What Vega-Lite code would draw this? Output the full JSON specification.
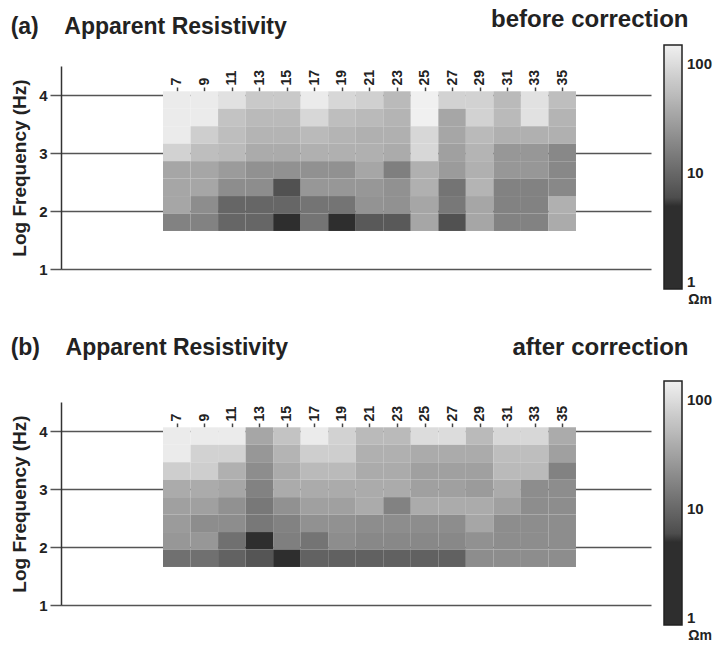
{
  "$schema": "https://vega.github.io/schema/vega-lite/v6.json",
  "background": "white",
  "padding": {"left": 10, "top": 7, "right": 0, "bottom": 0},
  "config": {
    "font": "Liberation Sans",
    "view": {"stroke": null},
    "title": {"font": "Liberation Sans"}
  },
  "datasets": {
    "a": [
      {"s":7,"f":8192,"r":136},{"s":9,"f":8192,"r":136},{"s":11,"f":8192,"r":112},{"s":13,"f":8192,"r":69},{"s":15,"f":8192,"r":69},{"s":17,"f":8192,"r":136},{"s":19,"f":8192,"r":92},{"s":21,"f":8192,"r":80},{"s":23,"f":8192,"r":51},{"s":25,"f":8192,"r":150},{"s":27,"f":8192,"r":83},{"s":29,"f":8192,"r":83},{"s":31,"f":8192,"r":51},{"s":33,"f":8192,"r":112},{"s":35,"f":8192,"r":56},
      {"s":7,"f":4096,"r":136},{"s":9,"f":4096,"r":136},{"s":11,"f":4096,"r":62},{"s":13,"f":4096,"r":51},{"s":15,"f":4096,"r":51},{"s":17,"f":4096,"r":92},{"s":19,"f":4096,"r":56},{"s":21,"f":4096,"r":51},{"s":23,"f":4096,"r":46},{"s":25,"f":4096,"r":150},{"s":27,"f":4096,"r":35},{"s":29,"f":4096,"r":83},{"s":31,"f":4096,"r":51},{"s":33,"f":4096,"r":112},{"s":35,"f":4096,"r":46},
      {"s":7,"f":2048,"r":136},{"s":9,"f":2048,"r":76},{"s":11,"f":2048,"r":56},{"s":13,"f":2048,"r":46},{"s":15,"f":2048,"r":46},{"s":17,"f":2048,"r":51},{"s":19,"f":2048,"r":46},{"s":21,"f":2048,"r":42},{"s":23,"f":2048,"r":42},{"s":25,"f":2048,"r":92},{"s":27,"f":2048,"r":35},{"s":29,"f":2048,"r":51},{"s":31,"f":2048,"r":42},{"s":33,"f":2048,"r":42},{"s":35,"f":2048,"r":42},
      {"s":7,"f":1024,"r":83},{"s":9,"f":1024,"r":56},{"s":11,"f":1024,"r":51},{"s":13,"f":1024,"r":38},{"s":15,"f":1024,"r":38},{"s":17,"f":1024,"r":42},{"s":19,"f":1024,"r":42},{"s":21,"f":1024,"r":42},{"s":23,"f":1024,"r":38},{"s":25,"f":1024,"r":92},{"s":27,"f":1024,"r":31},{"s":29,"f":1024,"r":46},{"s":31,"f":1024,"r":26},{"s":33,"f":1024,"r":26},{"s":35,"f":1024,"r":19},
      {"s":7,"f":512,"r":35},{"s":9,"f":512,"r":35},{"s":11,"f":512,"r":28},{"s":13,"f":512,"r":23},{"s":15,"f":512,"r":23},{"s":17,"f":512,"r":23},{"s":19,"f":512,"r":23},{"s":21,"f":512,"r":35},{"s":23,"f":512,"r":16},{"s":25,"f":512,"r":42},{"s":27,"f":512,"r":28},{"s":29,"f":512,"r":42},{"s":31,"f":512,"r":26},{"s":33,"f":512,"r":26},{"s":35,"f":512,"r":19},
      {"s":7,"f":256,"r":35},{"s":9,"f":256,"r":35},{"s":11,"f":256,"r":21},{"s":13,"f":256,"r":21},{"s":15,"f":256,"r":6.5},{"s":17,"f":256,"r":26},{"s":19,"f":256,"r":26},{"s":21,"f":256,"r":26},{"s":23,"f":256,"r":23},{"s":25,"f":256,"r":42},{"s":27,"f":256,"r":13},{"s":29,"f":256,"r":46},{"s":31,"f":256,"r":17},{"s":33,"f":256,"r":17},{"s":35,"f":256,"r":19},
      {"s":7,"f":128,"r":35},{"s":9,"f":128,"r":21},{"s":11,"f":128,"r":9.7},{"s":13,"f":128,"r":9.7},{"s":15,"f":128,"r":9.7},{"s":17,"f":128,"r":13},{"s":19,"f":128,"r":13},{"s":21,"f":128,"r":24},{"s":23,"f":128,"r":23},{"s":25,"f":128,"r":35},{"s":27,"f":128,"r":14},{"s":29,"f":128,"r":35},{"s":31,"f":128,"r":17},{"s":33,"f":128,"r":17},{"s":35,"f":128,"r":42},
      {"s":7,"f":64,"r":17},{"s":9,"f":64,"r":17},{"s":11,"f":64,"r":9.7},{"s":13,"f":64,"r":9.7},{"s":15,"f":64,"r":4},{"s":17,"f":64,"r":13},{"s":19,"f":64,"r":4.5},{"s":21,"f":64,"r":7.5},{"s":23,"f":64,"r":7.5},{"s":25,"f":64,"r":35},{"s":27,"f":64,"r":6.5},{"s":29,"f":64,"r":35},{"s":31,"f":64,"r":17},{"s":33,"f":64,"r":17},{"s":35,"f":64,"r":38}
    ],
    "b": [
      {"s":7,"f":8192,"r":136},{"s":9,"f":8192,"r":136},{"s":11,"f":8192,"r":136},{"s":13,"f":8192,"r":35},{"s":15,"f":8192,"r":62},{"s":17,"f":8192,"r":136},{"s":19,"f":8192,"r":83},{"s":21,"f":8192,"r":51},{"s":23,"f":8192,"r":51},{"s":25,"f":8192,"r":100},{"s":27,"f":8192,"r":100},{"s":29,"f":8192,"r":51},{"s":31,"f":8192,"r":92},{"s":33,"f":8192,"r":92},{"s":35,"f":8192,"r":38},
      {"s":7,"f":4096,"r":136},{"s":9,"f":4096,"r":83},{"s":11,"f":4096,"r":83},{"s":13,"f":4096,"r":26},{"s":15,"f":4096,"r":46},{"s":17,"f":4096,"r":76},{"s":19,"f":4096,"r":76},{"s":21,"f":4096,"r":42},{"s":23,"f":4096,"r":42},{"s":25,"f":4096,"r":38},{"s":27,"f":4096,"r":38},{"s":29,"f":4096,"r":38},{"s":31,"f":4096,"r":56},{"s":33,"f":4096,"r":56},{"s":35,"f":4096,"r":31},
      {"s":7,"f":2048,"r":76},{"s":9,"f":2048,"r":76},{"s":11,"f":2048,"r":42},{"s":13,"f":2048,"r":21},{"s":15,"f":2048,"r":38},{"s":17,"f":2048,"r":51},{"s":19,"f":2048,"r":51},{"s":21,"f":2048,"r":38},{"s":23,"f":2048,"r":38},{"s":25,"f":2048,"r":31},{"s":27,"f":2048,"r":31},{"s":29,"f":2048,"r":31},{"s":31,"f":2048,"r":51},{"s":33,"f":2048,"r":51},{"s":35,"f":2048,"r":17},
      {"s":7,"f":1024,"r":38},{"s":9,"f":1024,"r":38},{"s":11,"f":1024,"r":35},{"s":13,"f":1024,"r":17},{"s":15,"f":1024,"r":38},{"s":17,"f":1024,"r":38},{"s":19,"f":1024,"r":38},{"s":21,"f":1024,"r":38},{"s":23,"f":1024,"r":38},{"s":25,"f":1024,"r":31},{"s":27,"f":1024,"r":31},{"s":29,"f":1024,"r":28},{"s":31,"f":1024,"r":38},{"s":33,"f":1024,"r":21},{"s":35,"f":1024,"r":21},
      {"s":7,"f":512,"r":31},{"s":9,"f":512,"r":31},{"s":11,"f":512,"r":23},{"s":13,"f":512,"r":14},{"s":15,"f":512,"r":23},{"s":17,"f":512,"r":31},{"s":19,"f":512,"r":31},{"s":21,"f":512,"r":38},{"s":23,"f":512,"r":17},{"s":25,"f":512,"r":38},{"s":27,"f":512,"r":38},{"s":29,"f":512,"r":38},{"s":31,"f":512,"r":31},{"s":33,"f":512,"r":21},{"s":35,"f":512,"r":21},
      {"s":7,"f":256,"r":28},{"s":9,"f":256,"r":21},{"s":11,"f":256,"r":21},{"s":13,"f":256,"r":14},{"s":15,"f":256,"r":17},{"s":17,"f":256,"r":23},{"s":19,"f":256,"r":23},{"s":21,"f":256,"r":21},{"s":23,"f":256,"r":21},{"s":25,"f":256,"r":21},{"s":27,"f":256,"r":21},{"s":29,"f":256,"r":35},{"s":31,"f":256,"r":21},{"s":33,"f":256,"r":21},{"s":35,"f":256,"r":21},
      {"s":7,"f":128,"r":26},{"s":9,"f":128,"r":26},{"s":11,"f":128,"r":12},{"s":13,"f":128,"r":4.5},{"s":15,"f":128,"r":16},{"s":17,"f":128,"r":13},{"s":19,"f":128,"r":21},{"s":21,"f":128,"r":19},{"s":23,"f":128,"r":19},{"s":25,"f":128,"r":19},{"s":27,"f":128,"r":19},{"s":29,"f":128,"r":23},{"s":31,"f":128,"r":21},{"s":33,"f":128,"r":21},{"s":35,"f":128,"r":21},
      {"s":7,"f":64,"r":12},{"s":9,"f":64,"r":12},{"s":11,"f":64,"r":9},{"s":13,"f":64,"r":7},{"s":15,"f":64,"r":4.5},{"s":17,"f":64,"r":9},{"s":19,"f":64,"r":8.8},{"s":21,"f":64,"r":8.8},{"s":23,"f":64,"r":8.8},{"s":25,"f":64,"r":8.8},{"s":27,"f":64,"r":8.8},{"s":29,"f":64,"r":21},{"s":31,"f":64,"r":21},{"s":33,"f":64,"r":21},{"s":35,"f":64,"r":21}
    ]
  },
  "spacing": 28,
  "resolve": {"scale": {"color": "independent"}, "legend": {"color": "independent"}},
  "vconcat": [
    {
      "width": 590,
      "height": 203,
      "title": {"text": "(a)\u00a0\u00a0\u00a0\u00a0Apparent Resistivity", "anchor": "start", "frame": "bounds", "fontSize": 23, "fontWeight": "bold", "color": "#222", "offset": -32},
      "data": {"name": "a"},
      "transform": [
        {"calculate": "datum.s - 1", "as": "x1"},
        {"calculate": "datum.s + 1", "as": "x2"},
        {"calculate": "log(datum.f) / LN10 - 0.1505", "as": "y1"},
        {"calculate": "log(datum.f) / LN10 + 0.1505", "as": "y2"}
      ],
      "mark": {"type": "rect"},
      "encoding": {
        "x": {"field": "x1", "type": "quantitative", "scale": {"domain": [-1.41, 41.45], "nice": false, "zero": false},
          "axis": {"orient": "top", "offset": -25, "values": [7,9,11,13,15,17,19,21,23,25,27,29,31,33,35], "labelAngle": -90, "labelFontSize": 14, "labelFontWeight": "bold", "labelColor": "#222", "labelPadding": 2, "labelOverlap": false, "labelBound": false, "labelFlush": false, "domain": false, "grid": false, "ticks": true, "tickSize": 4, "tickColor": "#444", "tickWidth": 1.5,
            "title": "before correction", "titleFontSize": 24, "titleFontWeight": "bold", "titleColor": "#222", "titleX": 627, "titleY": -65, "titleAlign": "right", "titleAnchor": null, "titleBaseline": "alphabetic"}},
        "x2": {"field": "x2"},
        "y": {"field": "y1", "type": "quantitative", "scale": {"domain": [1, 4.5], "nice": false, "zero": false},
          "axis": {"values": [1,2,3,4], "format": "d", "grid": true, "gridColor": "#555", "gridWidth": 1.5, "domainColor": "#333", "domainWidth": 1.5, "tickSize": 11, "tickColor": "#555", "tickWidth": 1.5, "labelFontSize": 15, "labelFontWeight": "bold", "labelColor": "#222", "labelPadding": 3,
            "title": "Log Frequency (Hz)", "titleFontSize": 19, "titleFontWeight": "bold", "titleColor": "#222", "titlePadding": 9}},
        "y2": {"field": "y2"},
        "color": {"field": "r", "type": "quantitative",
          "scale": {"type": "log", "domain": [0.87, 5.6, 5.61, 150], "range": ["#2e2e2e", "#2e2e2e", "#4a4a4a", "#f0f0f0"], "interpolate": "rgb"},
          "legend": {"orient": "none", "legendX": 603, "legendY": -21, "direction": "vertical", "gradientLength": 244, "gradientThickness": 18, "gradientStrokeColor": "#222", "gradientStrokeWidth": 1.5, "values": [1, 10, 100], "format": "d", "labelFontSize": 15, "labelFontWeight": "bold", "labelColor": "#222", "labelOffset": 5, "labelOverlap": false, "title": "Ωm", "titleOrient": "bottom", "titleAnchor": "end", "titleFontSize": 14, "titleFontWeight": "bold", "titleColor": "#222", "titlePadding": 3, "padding": 0}}
      }
    },
    {
      "width": 590,
      "height": 203,
      "title": {"text": "(b)\u00a0\u00a0\u00a0\u00a0Apparent Resistivity", "anchor": "start", "frame": "bounds", "fontSize": 23, "fontWeight": "bold", "color": "#222", "offset": -25},
      "data": {"name": "b"},
      "transform": [
        {"calculate": "datum.s - 1", "as": "x1"},
        {"calculate": "datum.s + 1", "as": "x2"},
        {"calculate": "log(datum.f) / LN10 - 0.1505", "as": "y1"},
        {"calculate": "log(datum.f) / LN10 + 0.1505", "as": "y2"}
      ],
      "mark": {"type": "rect"},
      "encoding": {
        "x": {"field": "x1", "type": "quantitative", "scale": {"domain": [-1.41, 41.45], "nice": false, "zero": false},
          "axis": {"orient": "top", "offset": -25, "values": [7,9,11,13,15,17,19,21,23,25,27,29,31,33,35], "labelAngle": -90, "labelFontSize": 14, "labelFontWeight": "bold", "labelColor": "#222", "labelPadding": 2, "labelOverlap": false, "labelBound": false, "labelFlush": false, "domain": false, "grid": false, "ticks": true, "tickSize": 4, "tickColor": "#444", "tickWidth": 1.5,
            "title": "after correction", "titleFontSize": 24, "titleFontWeight": "bold", "titleColor": "#222", "titleX": 627, "titleY": -73, "titleAlign": "right", "titleAnchor": null, "titleBaseline": "alphabetic"}},
        "x2": {"field": "x2"},
        "y": {"field": "y1", "type": "quantitative", "scale": {"domain": [1, 4.5], "nice": false, "zero": false},
          "axis": {"values": [1,2,3,4], "format": "d", "grid": true, "gridColor": "#555", "gridWidth": 1.5, "domainColor": "#333", "domainWidth": 1.5, "tickSize": 11, "tickColor": "#555", "tickWidth": 1.5, "labelFontSize": 15, "labelFontWeight": "bold", "labelColor": "#222", "labelPadding": 3,
            "title": "Log Frequency (Hz)", "titleFontSize": 19, "titleFontWeight": "bold", "titleColor": "#222", "titlePadding": 9}},
        "y2": {"field": "y2"},
        "color": {"field": "r", "type": "quantitative",
          "scale": {"type": "log", "domain": [0.87, 5.6, 5.61, 150], "range": ["#2e2e2e", "#2e2e2e", "#4a4a4a", "#f0f0f0"], "interpolate": "rgb"},
          "legend": {"orient": "none", "legendX": 603, "legendY": -21, "direction": "vertical", "gradientLength": 244, "gradientThickness": 18, "gradientStrokeColor": "#222", "gradientStrokeWidth": 1.5, "values": [1, 10, 100], "format": "d", "labelFontSize": 15, "labelFontWeight": "bold", "labelColor": "#222", "labelOffset": 5, "labelOverlap": false, "title": "Ωm", "titleOrient": "bottom", "titleAnchor": "end", "titleFontSize": 14, "titleFontWeight": "bold", "titleColor": "#222", "titlePadding": 3, "padding": 0}}
      }
    }
  ]
}
